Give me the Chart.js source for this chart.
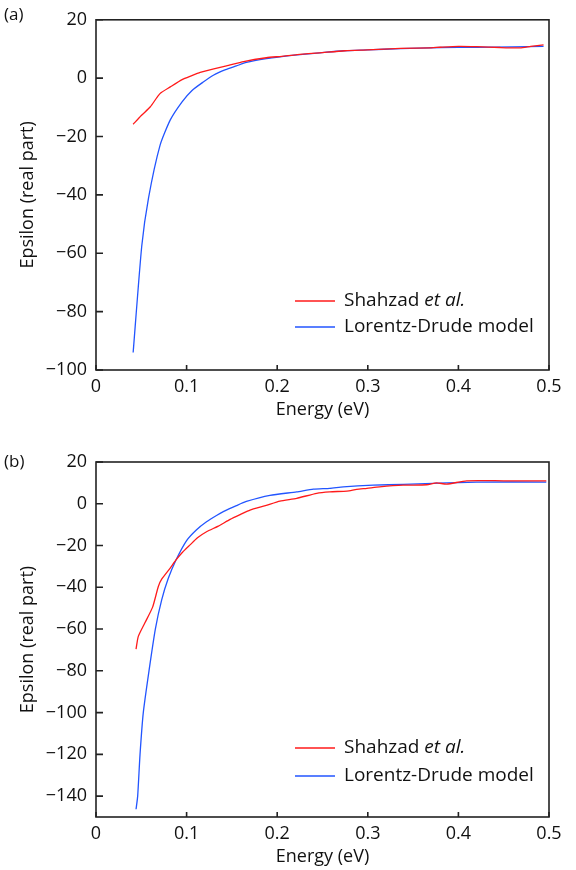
<!DOCTYPE html>
<html lang="en">
<head>
<meta charset="UTF-8">
<title>Epsilon (real part) vs Energy</title>
<script src="https://cdn.jsdelivr.net/npm/chart.js@4.4.1/dist/chart.umd.min.js"></script>
<style>
  html, body { margin: 0; padding: 0; background: #fff; }
  canvas { display: block; }
</style>
</head>
<body>
<canvas id="chartA" width="576" height="435"></canvas>
<canvas id="chartB" width="576" height="435"></canvas>
<script>
// ---- panel (a) ----
var energyA_shahzad = [0.041, 0.050, 0.060, 0.0706, 0.082, 0.095, 0.105, 0.115, 0.13, 0.144, 0.163, 0.188, 0.205, 0.222, 0.247, 0.275, 0.30, 0.336, 0.37, 0.38, 0.40, 0.42, 0.446, 0.468, 0.48, 0.494];
var epsA_shahzad    = [-15.8, -12.8, -9.8, -5.3, -3.0, -0.5, 0.8, 2.0, 3.2, 4.2, 5.7, 7.0, 7.5, 8.1, 8.7, 9.4, 9.7, 10.2, 10.4, 10.6, 10.9, 10.8, 10.5, 10.4, 10.9, 11.4];

var energyA_ld = [0.041, 0.0505, 0.058, 0.0706, 0.082, 0.095, 0.106, 0.118, 0.13, 0.143, 0.155, 0.166, 0.188, 0.205, 0.222, 0.247, 0.273, 0.30, 0.336, 0.38, 0.42, 0.46, 0.494];
var epsA_ld    = [-94.0, -57.5, -41.0, -23.1, -14.3, -8.1, -4.2, -1.4, 1.1, 2.9, 4.2, 5.4, 6.7, 7.4, 8.0, 8.7, 9.4, 9.7, 10.1, 10.5, 10.6, 10.7, 10.9];

// ---- panel (b) ----
var energyB_shahzad = [0.0442, 0.0467, 0.054, 0.0625, 0.0688, 0.0725, 0.0817, 0.0883, 0.0955, 0.1038, 0.112, 0.122, 0.135, 0.148, 0.16, 0.17, 0.187, 0.203, 0.2215, 0.2436, 0.258, 0.277, 0.2877, 0.299, 0.313, 0.339, 0.365, 0.376, 0.387, 0.409, 0.45, 0.497];
var epsB_shahzad    = [-69.6, -63.5, -57.0, -49.5, -39.6, -36.1, -30.9, -26.9, -23.2, -19.7, -16.3, -13.4, -10.7, -7.5, -5.0, -3.0, -0.9, 1.3, 2.6, 5.0, 5.7, 6.1, 6.9, 7.4, 8.1, 8.9, 9.1, 10.0, 9.4, 11.0, 11.0, 11.0];

var energyB_ld = [0.0442, 0.046, 0.0486, 0.0522, 0.0585, 0.0655, 0.0725, 0.0798, 0.0883, 0.1, 0.111, 0.122, 0.133, 0.1405, 0.155, 0.166, 0.192, 0.2215, 0.24, 0.258, 0.273, 0.306, 0.339, 0.372, 0.42, 0.497];
var epsB_ld    = [-146.3, -140.0, -120.0, -100.0, -80.0, -60.0, -46.0, -35.7, -26.9, -17.6, -12.4, -8.6, -5.6, -3.8, -0.9, 1.1, 4.0, 5.7, 7.0, 7.4, 8.1, 8.9, 9.3, 9.8, 10.4, 10.4];

var xTicks  = [0, 0.1, 0.2, 0.3, 0.4, 0.5];
var yTicksA = [-100, -80, -60, -40, -20, 0, 20];
var yTicksB = [-140, -120, -100, -80, -60, -40, -20, 0, 20];

var FONT = "'Open Sans', sans-serif";
var RED = '#ff1a1a';
var BLUE = '#2255ff';

function toPoints(xs, ys) {
  return xs.map(function (x, i) { return { x: x, y: ys[i] }; });
}

function minus(v) {
  return String(v).replace('-', '\u2212');
}

// box frame, inward ticks, panel tag and the legend
var framePlugin = {
  id: 'frame',
  afterDatasetsDraw: function (chart, args, opts) {
    var ctx = chart.ctx, a = chart.chartArea;
    var xs = chart.scales.x, ys = chart.scales.y;
    ctx.save();
    ctx.strokeStyle = '#222';
    ctx.lineWidth = 1.6;
    ctx.strokeRect(a.left, a.top, a.right - a.left, a.bottom - a.top);
    ctx.beginPath();
    xs.ticks.forEach(function (t) {
      var px = xs.getPixelForValue(t.value);
      ctx.moveTo(px, a.bottom);
      ctx.lineTo(px, a.bottom - 5);
    });
    ys.ticks.forEach(function (t) {
      var py = ys.getPixelForValue(t.value);
      ctx.moveTo(a.left, py);
      ctx.lineTo(a.left + 7, py);
    });
    ctx.stroke();

    ctx.fillStyle = '#111';
    ctx.textBaseline = 'middle';
    ctx.font = '17px ' + FONT;
    ctx.fillText(opts.tag, 4, opts.tagY);

    // legend
    var lx = 295, ly = opts.legendY;
    var rows = [
      { color: RED, parts: [['Shahzad ', ''], ['et al.', 'italic ']] },
      { color: BLUE, parts: [['Lorentz-Drude model', '']] }
    ];
    rows.forEach(function (r, i) {
      var y = ly + i * opts.legendGap;
      ctx.strokeStyle = r.color;
      ctx.lineWidth = 1.3;
      ctx.beginPath();
      ctx.moveTo(lx, y);
      ctx.lineTo(lx + 40, y);
      ctx.stroke();
      var tx = lx + 49;
      r.parts.forEach(function (p) {
        ctx.font = p[1] + '19px ' + FONT;
        ctx.fillText(p[0], tx, y);
        tx += ctx.measureText(p[0]).width;
      });
    });
    ctx.restore();
  }
};

function makeChart(id, red, blue, yMin, yTicks, pad, xHeight, xTitlePad, tag, tagY, legendY, legendGap) {
  return new Chart(document.getElementById(id), {
    type: 'line',
    data: {
      datasets: [
        { label: 'Shahzad et al.', data: red, borderColor: RED, borderWidth: 1.3, pointRadius: 0, tension: 0.2, fill: false },
        { label: 'Lorentz-Drude model', data: blue, borderColor: BLUE, borderWidth: 1.3, pointRadius: 0, tension: 0.2, fill: false }
      ]
    },
    options: {
      responsive: false,
      animation: false,
      devicePixelRatio: 1,
      layout: { padding: { top: pad, right: 27, left: 0, bottom: 0 } },
      plugins: {
        legend: { display: false },
        tooltip: { enabled: false },
        frame: { tag: tag, tagY: tagY, legendY: legendY, legendGap: legendGap }
      },
      scales: {
        x: {
          type: 'linear',
          min: 0,
          max: 0.5,
          afterBuildTicks: function (s) { s.ticks = xTicks.map(function (v) { return { value: v }; }); },
          afterFit: function (s) { s.height = xHeight; },
          grid: { display: false, drawTicks: false },
          border: { display: false },
          ticks: { color: '#111', padding: 6, font: { family: FONT, size: 18 }, callback: function (v) { return minus(v); } },
          title: { display: true, text: 'Energy (eV)', color: '#111', font: { family: FONT, size: 18 }, padding: { top: 0, bottom: xTitlePad } }
        },
        y: {
          min: yMin,
          max: 20,
          afterBuildTicks: function (s) { s.ticks = yTicks.map(function (v) { return { value: v }; }); },
          afterFit: function (s) { s.width = 96; },
          grid: { display: false, drawTicks: false },
          border: { display: false },
          ticks: { color: '#111', padding: 9, font: { family: FONT, size: 18 }, callback: function (v) { return minus(v); } },
          title: { display: true, text: 'Epsilon (real part)', color: '#111', font: { family: FONT, size: 18 }, padding: { top: 17, bottom: 0 } }
        }
      }
    },
    plugins: [framePlugin]
  });
}

makeChart('chartA', toPoints(energyA_shahzad, epsA_shahzad), toPoints(energyA_ld, epsA_ld),
  -100, yTicksA, 13, 65, 14, '(a)', 15, 301, 26);
makeChart('chartB', toPoints(energyB_shahzad, epsB_shahzad), toPoints(energyB_ld, epsB_ld),
  -150, yTicksB, 27, 53, 2, '(b)', 27, 313, 28);
</script>
</body>
</html>
